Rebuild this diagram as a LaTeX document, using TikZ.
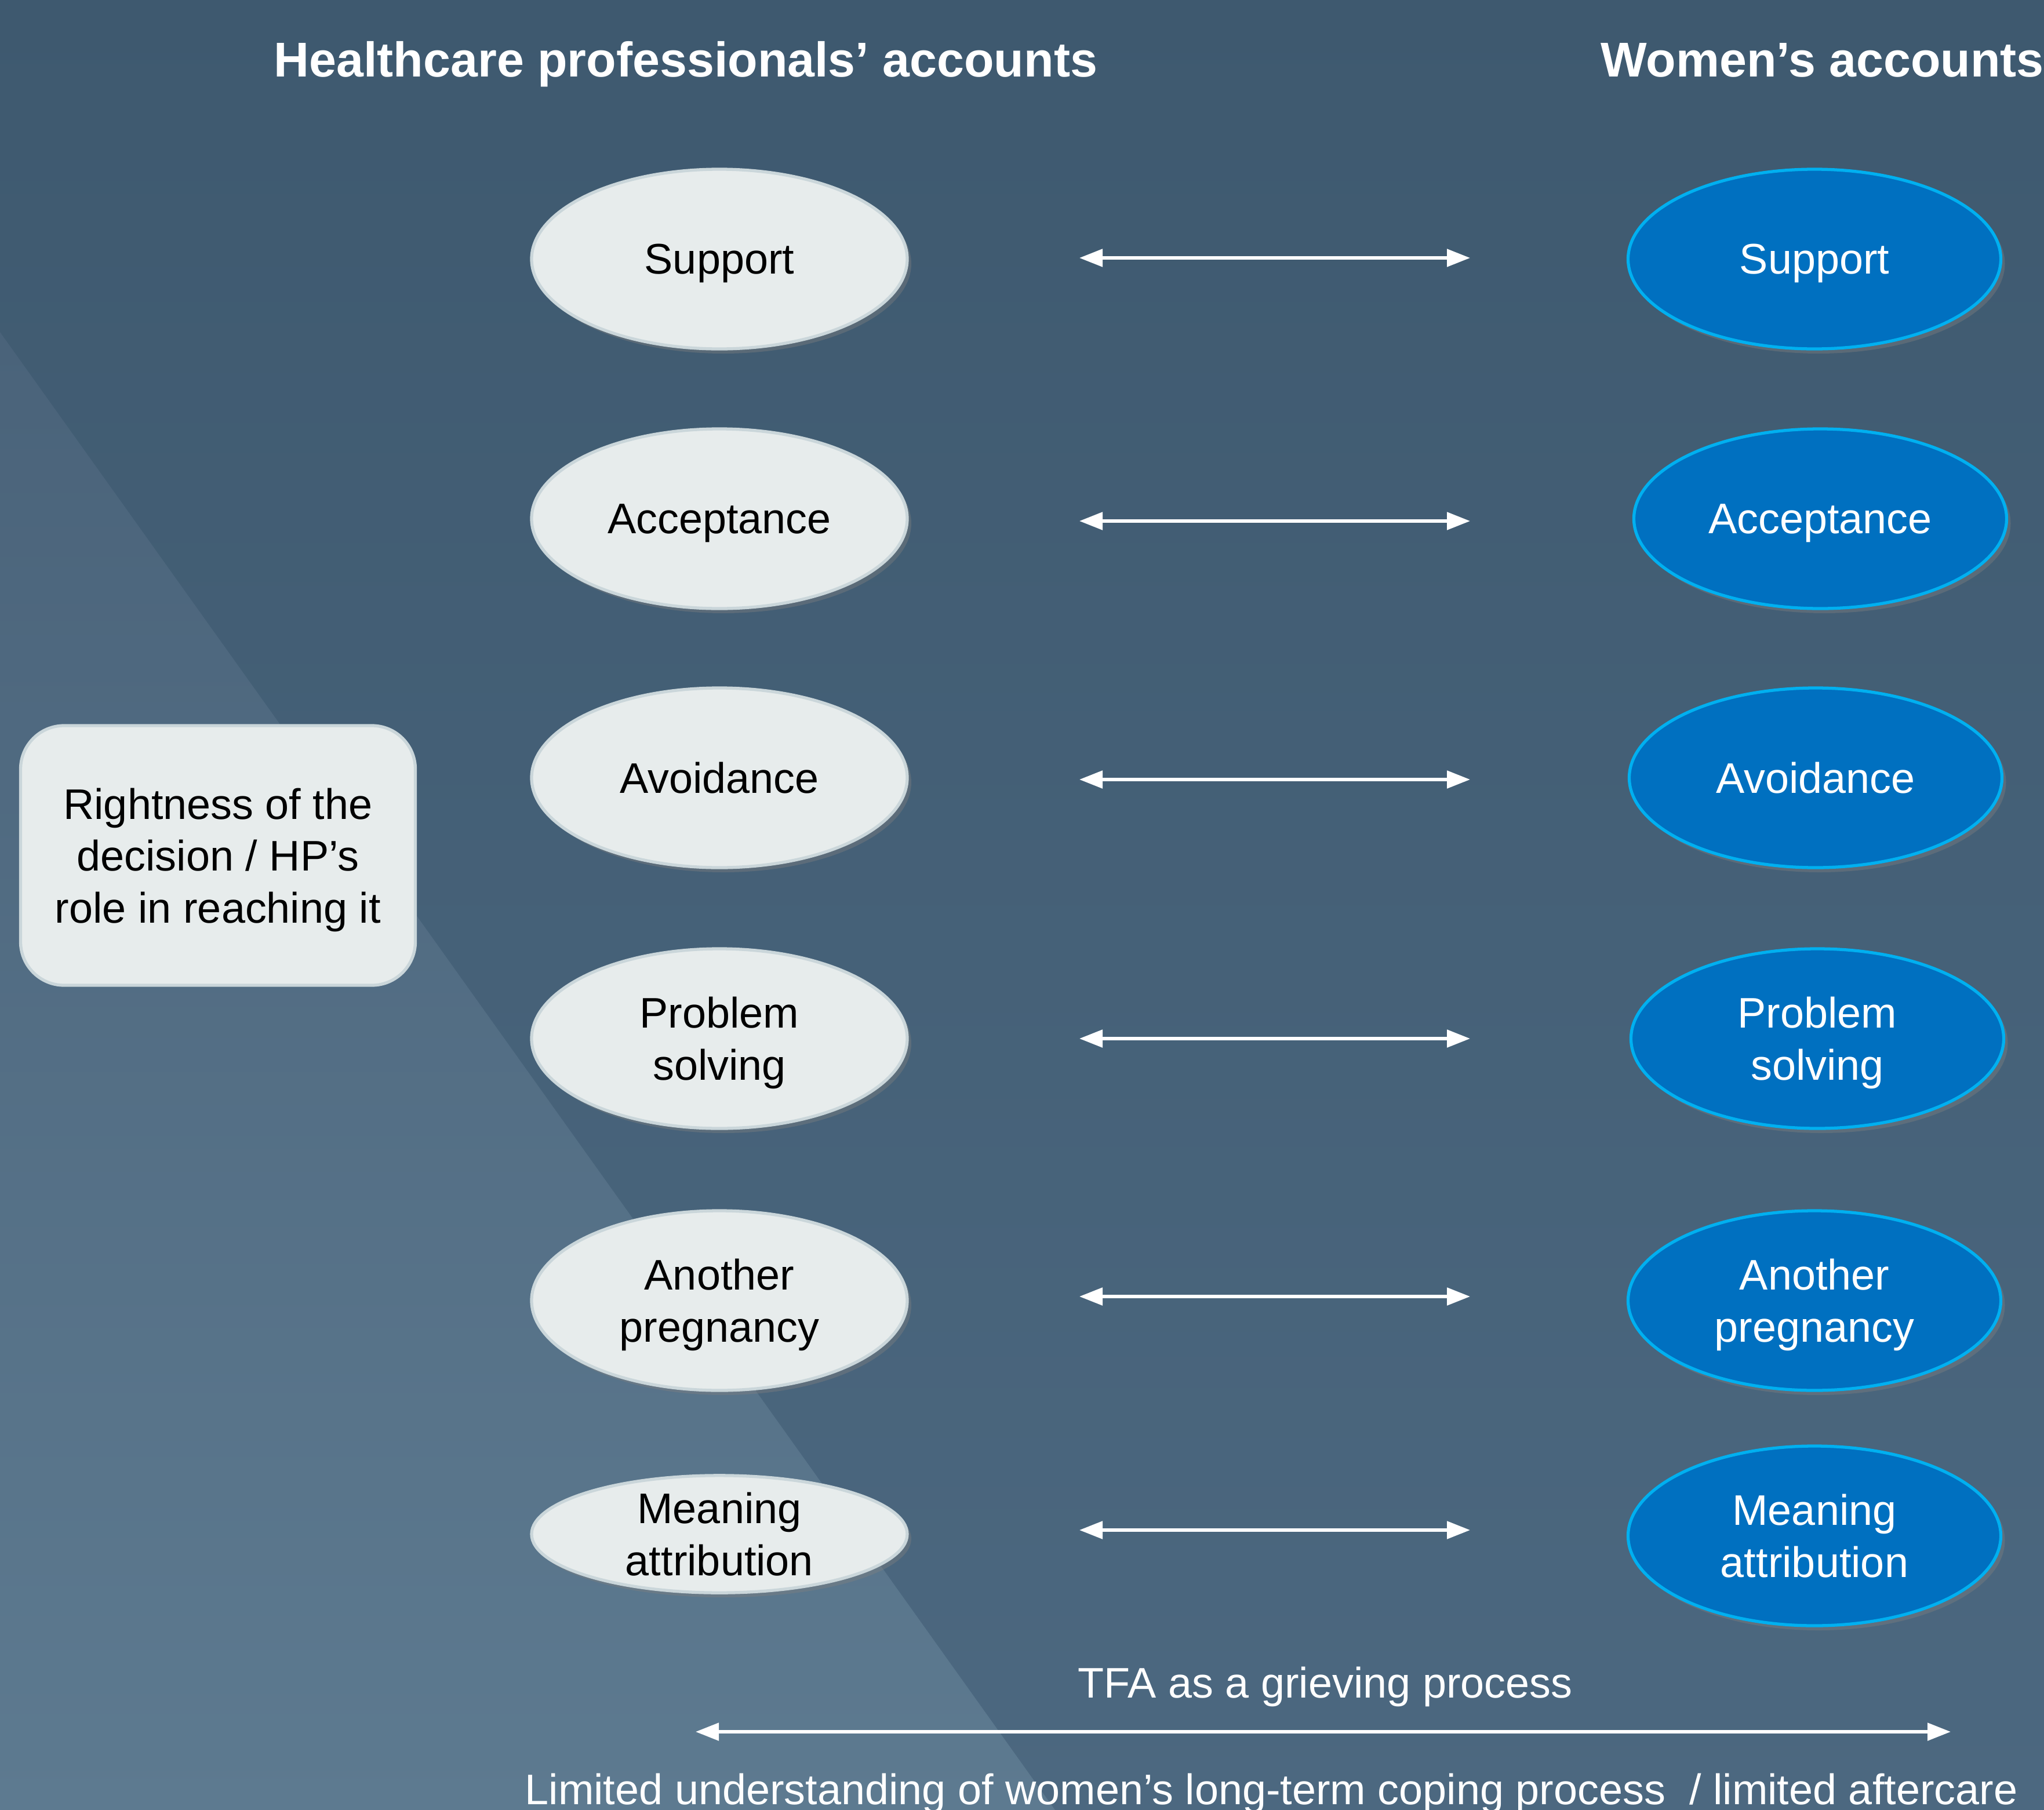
\documentclass[tikz,border=0pt]{standalone}
\usepackage{fontspec}
\setmainfont{Liberation Sans}
\usepackage{tikz}
\usetikzlibrary{arrows.meta}
\usetikzlibrary{shapes.geometric}
\usetikzlibrary{shadows}
\usetikzlibrary{positioning}
\definecolor{bgtop}{RGB}{62,89,111}
\definecolor{bgbot}{RGB}{76,104,128}
\definecolor{wedgetop}{RGB}{74,99,122}
\definecolor{wedgebot}{RGB}{93,122,144}
\definecolor{hpfill}{RGB}{231,236,236}
\definecolor{hpedge}{RGB}{202,214,218}
\definecolor{wfill}{RGB}{0,112,192}
\definecolor{wedge}{RGB}{0,176,240}
\tikzset{
  labtext/.style={font=\fontsize{21}{25.5}\selectfont, align=center, inner sep=0pt, text depth=0pt},
  headtext/.style={font=\fontsize{24}{29}\selectfont\bfseries, text=white, inner sep=0pt},
  hpoval/.style={ellipse, draw=hpedge, line width=1.5pt, fill=hpfill, text=black, labtext,
    minimum width=6.48cm, minimum height=3.1cm,
    drop shadow={shadow xshift=.07cm, shadow yshift=-.08cm, opacity=.4}},
  woval/.style={ellipse, draw=wedge, line width=1.5pt, fill=wfill, text=white, labtext,
    minimum width=6.43cm, minimum height=3.1cm,
    drop shadow={shadow xshift=.07cm, shadow yshift=-.08cm, opacity=.4}},
  hpbox/.style={rectangle, rounded corners=.75cm, draw=hpedge, line width=1.5pt, fill=hpfill,
    text=black, labtext, minimum width=6.81cm, minimum height=4.48cm},
  twoway/.style={white, line width=1.5pt, {Triangle[length=4mm,width=3mm]}-{Triangle[length=4mm,width=3mm]}}
}

\begin{document}
\begin{tikzpicture}
\useasboundingbox (0,0) rectangle (35.26,-31.23);
\shade[top color=bgtop, bottom color=bgbot] (0,0) rectangle (35.26,-31.23);
\shade[top color=wedgetop, bottom color=wedgebot] (0,-5.73) -- (18.2,-31.23) -- (0,-31.23) -- cycle;

\node[headtext, anchor=base west] (hphead) at (4.72,-1.32) {Healthcare professionals’ accounts};
\node[headtext, anchor=base west] (whead) at (27.61,-1.32) {Women’s accounts};

\node[hpbox] (right) at (3.76,-14.76) {Rightness of the\\decision / HP’s\\role in reaching it};

\foreach \i/\y/\xr/\ya/\t in {1/4.47/31.30/4.45/Support, 2/8.95/31.40/8.99/Acceptance,
  3/13.42/31.32/13.45/Avoidance, 4/17.92/31.35/17.92/{Problem\\solving},
  5/22.44/31.30/22.37/{Another\\pregnancy}} {
\node[hpoval] (hp\i) at (12.41,-\y) {\t};
\node[woval] (w\i) at (\xr,-\y) {\t};
\coordinate (al\i) at (18.62,-\ya);
\coordinate (ar\i) at (25.36,-\ya);
\draw[twoway] (al\i) -- (ar\i);
}
\node[hpoval, minimum height=2.02cm] (hp6) at (12.41,-26.47) {Meaning\\attribution};
\node[woval] (w6) at (31.30,-26.50) {Meaning\\attribution};
\coordinate (al6) at (18.62,-26.40);
\coordinate (ar6) at (25.36,-26.40);
\draw[twoway] (al6) -- (ar6);

\node[labtext, text=white, anchor=base] (tfa) at (22.86,-29.29) {TFA as a grieving process};
\coordinate (pl) at (12.0,-29.88);
\coordinate (pr) at (33.65,-29.88);
\draw[twoway] (pl) -- (pr);
\node[labtext, text=white, anchor=base west] (lim) at (9.05,-31.13) {Limited understanding of women’s long-term coping process~~/ limited aftercare};
\end{tikzpicture}
\end{document}
